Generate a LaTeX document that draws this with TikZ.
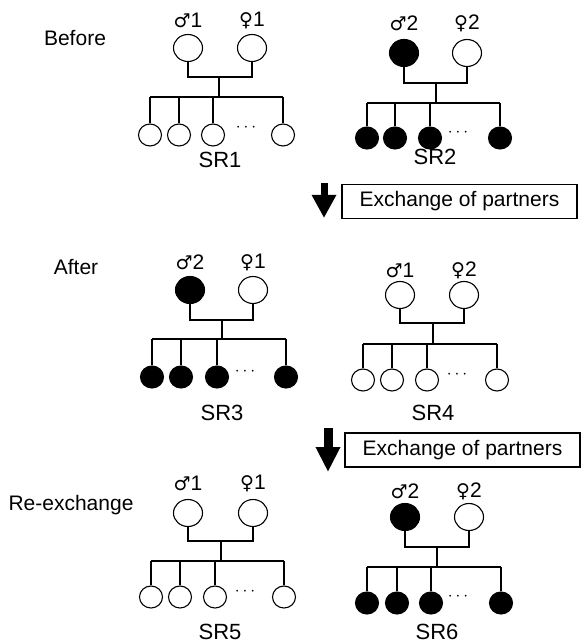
\documentclass[tikz,border=0pt]{standalone}
\usepackage{fontspec}
\setmainfont{Liberation Sans}
\newfontfamily\symfont{DejaVu Sans}
\usetikzlibrary{shapes.geometric,arrows.meta}
\newcommand{\male}{{\symfont\fontsize{19}{22}\selectfont ♂}}
\newcommand{\female}{{\symfont\fontsize{19}{22}\selectfont ♀}}
\tikzset{
  lbl/.style={font=\fontsize{21}{24}\selectfont, inner sep=0pt},
  srl/.style={font=\fontsize{22}{24}\selectfont, inner sep=0pt},
  par/.style={draw, ellipse, line width=1.1pt, minimum width=29pt, minimum height=27pt, inner sep=0pt},
  kid/.style={draw, ellipse, line width=1.1pt, minimum width=23pt, minimum height=22pt, inner sep=0pt},
  tree/.style={line width=1.1pt},
  exbox/.style={draw, line width=1.1pt, minimum width=235pt, minimum height=34pt, inner sep=0pt, font=\fontsize{21}{24}\selectfont},
  dotsl/.style={font=\fontsize{19}{20}\selectfont, inner sep=0pt}
}
\begin{document}
\begin{tikzpicture}[x=1pt,y=-1pt]
\useasboundingbox (0,0) rectangle (581,644);
\foreach \n/\ml/\fl/\ly/\py/\fx/\mx/\cf/\by/\jx/\ky/\cy/\ca/\cb/\cc/\cd/\dx/\dy/\sx/\sy in {
 1/1/1/20/48/188/252/white/77/219/97/135/150/179/213/283/246/128/220/160,
 2/2/2/23/53/404/467/black/83/436/103/138/367/395/430/500/458/133/435/157,
 3/2/1/262/290/190/253/black/320/222/339/377/152/181/217/286/245/372/222/413,
 4/1/2/270/295/400/464/white/323/433/344/380/363/392/427/497/457/375/433/413,
 5/1/1/483/513/188/253/white/541/221/561/597/151/180/215/284/245/592/220/632,
 6/2/2/491/517/405/469/black/547/437/567/603/367/397/431/501/458/597/437/632}
{
  \node[par, fill=\cf] (f\n) at (\fx,\py) {};
  \node[par, fill=white] (m\n) at (\mx,\py) {};
  \node[lbl] (lm\n) at (\fx,\ly) {\male\ml};
  \node[lbl] (lf\n) at (\mx,\ly) {\female\fl};
  \coordinate (j\n) at (\jx,\by);
  \coordinate (k\n) at (\jx,\ky);
  \draw[tree] (f\n.south) -- (f\n.south |- j\n) -- (m\n.south |- j\n) -- (m\n.south);
  \draw[tree] (j\n) -- (k\n);
  \foreach \i/\x in {1/\ca,2/\cb,3/\cc,4/\cd} {
    \node[kid, fill=\cf] (c\n-\i) at (\x,\cy) {};
    \draw[tree] (c\n-\i.north) -- (c\n-\i.north |- k\n);
  }
  \draw[tree] (c\n-1.north |- k\n) -- (c\n-4.north |- k\n);
  \node[dotsl] (d\n) at (\dx,\dy) {$\cdots$};
  \node[srl] (s\n) at (\sx,\sy) {SR\n};
}
\node[lbl] (before) at (75,38) {Before};
\node[lbl] (after) at (76,267) {After};
\node[lbl] (reex) at (71,505) {Re-exchange};
\coordinate (a1s) at (324,183);
\coordinate (a1e) at (324,218);
\draw[line width=7pt, -{Triangle[width=23pt,length=23pt]}] (a1s) -- (a1e);
\coordinate (a2s) at (328,428);
\coordinate (a2e) at (328,472);
\draw[line width=9pt, -{Triangle[width=23pt,length=25pt]}] (a2s) -- (a2e);
\node[exbox] (x1) at (459.5,201.5) {Exchange of partners};
\node[exbox] (x2) at (462.5,450) {Exchange of partners};
\end{tikzpicture}
\end{document}
